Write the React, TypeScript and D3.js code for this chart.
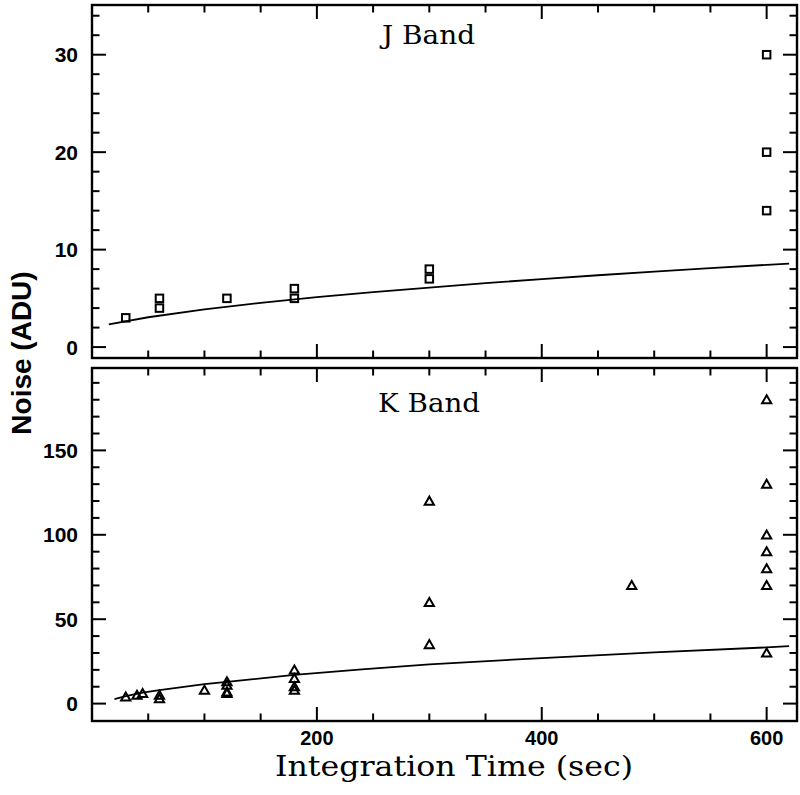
import React from 'react';
import * as d3 from 'd3';

// J band measurements (squares)
const jTime = [30, 60, 60, 120, 180, 180, 300, 300, 600, 600, 600];
const jNoise = [3, 4, 5, 5, 5, 6, 7, 8, 14, 20, 30];

// K band measurements (triangles)
const kTime = [30, 40, 45, 60, 60, 100, 120, 120, 120, 120, 180, 180, 180, 180, 300, 300, 300, 480, 600, 600, 600, 600, 600, 600, 600];
const kNoise = [4, 5, 6, 3, 5, 8, 6, 7, 11, 13, 8, 10, 15, 20, 35, 60, 120, 70, 30, 70, 80, 90, 100, 130, 180];

// model curves
const jFitTime = [15, 50, 100, 150, 200, 250, 300, 350, 400, 450, 500, 550, 600, 620];
const jFitNoise = [2.33, 3.06, 3.87, 4.54, 5.12, 5.64, 6.1, 6.56, 6.98, 7.37, 7.74, 8.1, 8.44, 8.57];
const kFitTime = [20, 30, 45, 60, 100, 120, 180, 240, 300, 400, 500, 600, 620];
const kFitNoise = [2.6, 4.4, 6.5, 8.0, 11.6, 12.9, 17.0, 20.3, 23.2, 27.0, 30.3, 33.3, 34.0];

const xMajor = [200, 400, 600];
const jMajor = [0, 10, 20, 30];
const kMajor = [0, 50, 100, 150];

const LEFT = 92;
const RIGHT = 797;
const TOP1 = 5, BOT1 = 358;
const TOP2 = 368, BOT2 = 721;

const x = d3.scaleLinear().domain([0, 627]).range([LEFT, RIGHT]);
const yJ = d3.scaleLinear().domain([-1.12, 35.1]).range([BOT1, TOP1]);
const yK = d3.scaleLinear().domain([-10.3, 198.8]).range([BOT2, TOP2]);

const MAJ = 14;
const MIN = 7.5;
const TICKFONT = "'Liberation Sans', Arial, sans-serif";
const SERIF = "'DejaVu Serif', serif";

function Frame({ y, top, bot, majors, minorStep, minorMax }: any) {
  const xMinor = d3.range(50, 627, 50).filter((v) => !xMajor.includes(v));
  const yMinor = d3.range(0, minorMax + 0.001, minorStep).filter((v) => !majors.includes(v) && y(v) > top + 1 && y(v) < bot - 1);
  const segs: any[] = [];
  xMajor.forEach((v) => {
    segs.push([x(v), bot, x(v), bot - MAJ]);
    segs.push([x(v), top, x(v), top + MAJ]);
  });
  xMinor.forEach((v) => {
    segs.push([x(v), bot, x(v), bot - MIN]);
    segs.push([x(v), top, x(v), top + MIN]);
  });
  majors.forEach((v: number) => {
    segs.push([LEFT, y(v), LEFT + MAJ, y(v)]);
    segs.push([RIGHT, y(v), RIGHT - MAJ, y(v)]);
  });
  yMinor.forEach((v: number) => {
    segs.push([LEFT, y(v), LEFT + MIN, y(v)]);
    segs.push([RIGHT, y(v), RIGHT - MIN, y(v)]);
  });
  return (
    <g>
      <rect x={LEFT} y={top} width={RIGHT - LEFT} height={bot - top} fill="none" stroke="#000" strokeWidth={2.4} />
      {segs.map((s, i) => (
        <line key={i} x1={s[0]} y1={s[1]} x2={s[2]} y2={s[3]} stroke="#000" strokeWidth={2} />
      ))}
      {majors.map((v: number) => (
        <text key={'l' + v} x={78} y={y(v)} textAnchor="end" dominantBaseline="central"
          fontFamily={TICKFONT} fontWeight="bold" fontSize={21}>{v}</text>
      ))}
    </g>
  );
}

export default function App() {
  const jLine = d3.line<number>().x((_, i) => x(jFitTime[i])).y((d) => yJ(d));
  const kLine = d3.line<number>().x((_, i) => x(kFitTime[i])).y((d) => yK(d));
  const sq = 7.5;
  return (
    <svg width={800} height={795} style={{ position: 'absolute', left: 0, top: 0, background: '#fff' }}>
      <rect x={0} y={0} width={800} height={795} fill="#fff" />
      <Frame y={yJ} top={TOP1} bot={BOT1} majors={jMajor} minorStep={2} minorMax={34} />
      <Frame y={yK} top={TOP2} bot={BOT2} majors={kMajor} minorStep={10} minorMax={190} />

      <path d={jLine(jFitNoise) || ''} fill="none" stroke="#000" strokeWidth={1.8} />
      <path d={kLine(kFitNoise) || ''} fill="none" stroke="#000" strokeWidth={1.8} />

      {jTime.map((t, i) => (
        <rect key={'j' + i} x={x(t) - sq / 2} y={yJ(jNoise[i]) - sq / 2} width={sq} height={sq}
          fill="none" stroke="#000" strokeWidth={2} />
      ))}
      {kTime.map((t, i) => {
        const cx = x(t), cy = yK(kNoise[i]);
        return (
          <path key={'k' + i}
            d={`M${cx - 4.6},${cy + 3.6}L${cx},${cy - 4.4}L${cx + 4.6},${cy + 3.6}Z`}
            fill="none" stroke="#000" strokeWidth={2} strokeLinejoin="miter" />
        );
      })}

      <text x={382} y={44} fontFamily={SERIF} fontSize={26} textLength={93} lengthAdjust="spacingAndGlyphs">J Band</text>
      <text x={378} y={412} fontFamily={SERIF} fontSize={26} textLength={102} lengthAdjust="spacingAndGlyphs">K Band</text>

      {xMajor.map((v) => (
        <text key={'x' + v} x={x(v)} y={745} textAnchor="middle"
          fontFamily={TICKFONT} fontWeight="bold" fontSize={20}>{v}</text>
      ))}

      <text x={275} y={776} fontFamily={SERIF} fontSize={27} textLength={358} lengthAdjust="spacingAndGlyphs">Integration Time (sec)</text>
      <text transform="translate(31,353) rotate(-90)" textAnchor="middle"
        fontFamily={TICKFONT} fontWeight="bold" fontSize={28}>Noise (ADU)</text>
    </svg>
  );
}
